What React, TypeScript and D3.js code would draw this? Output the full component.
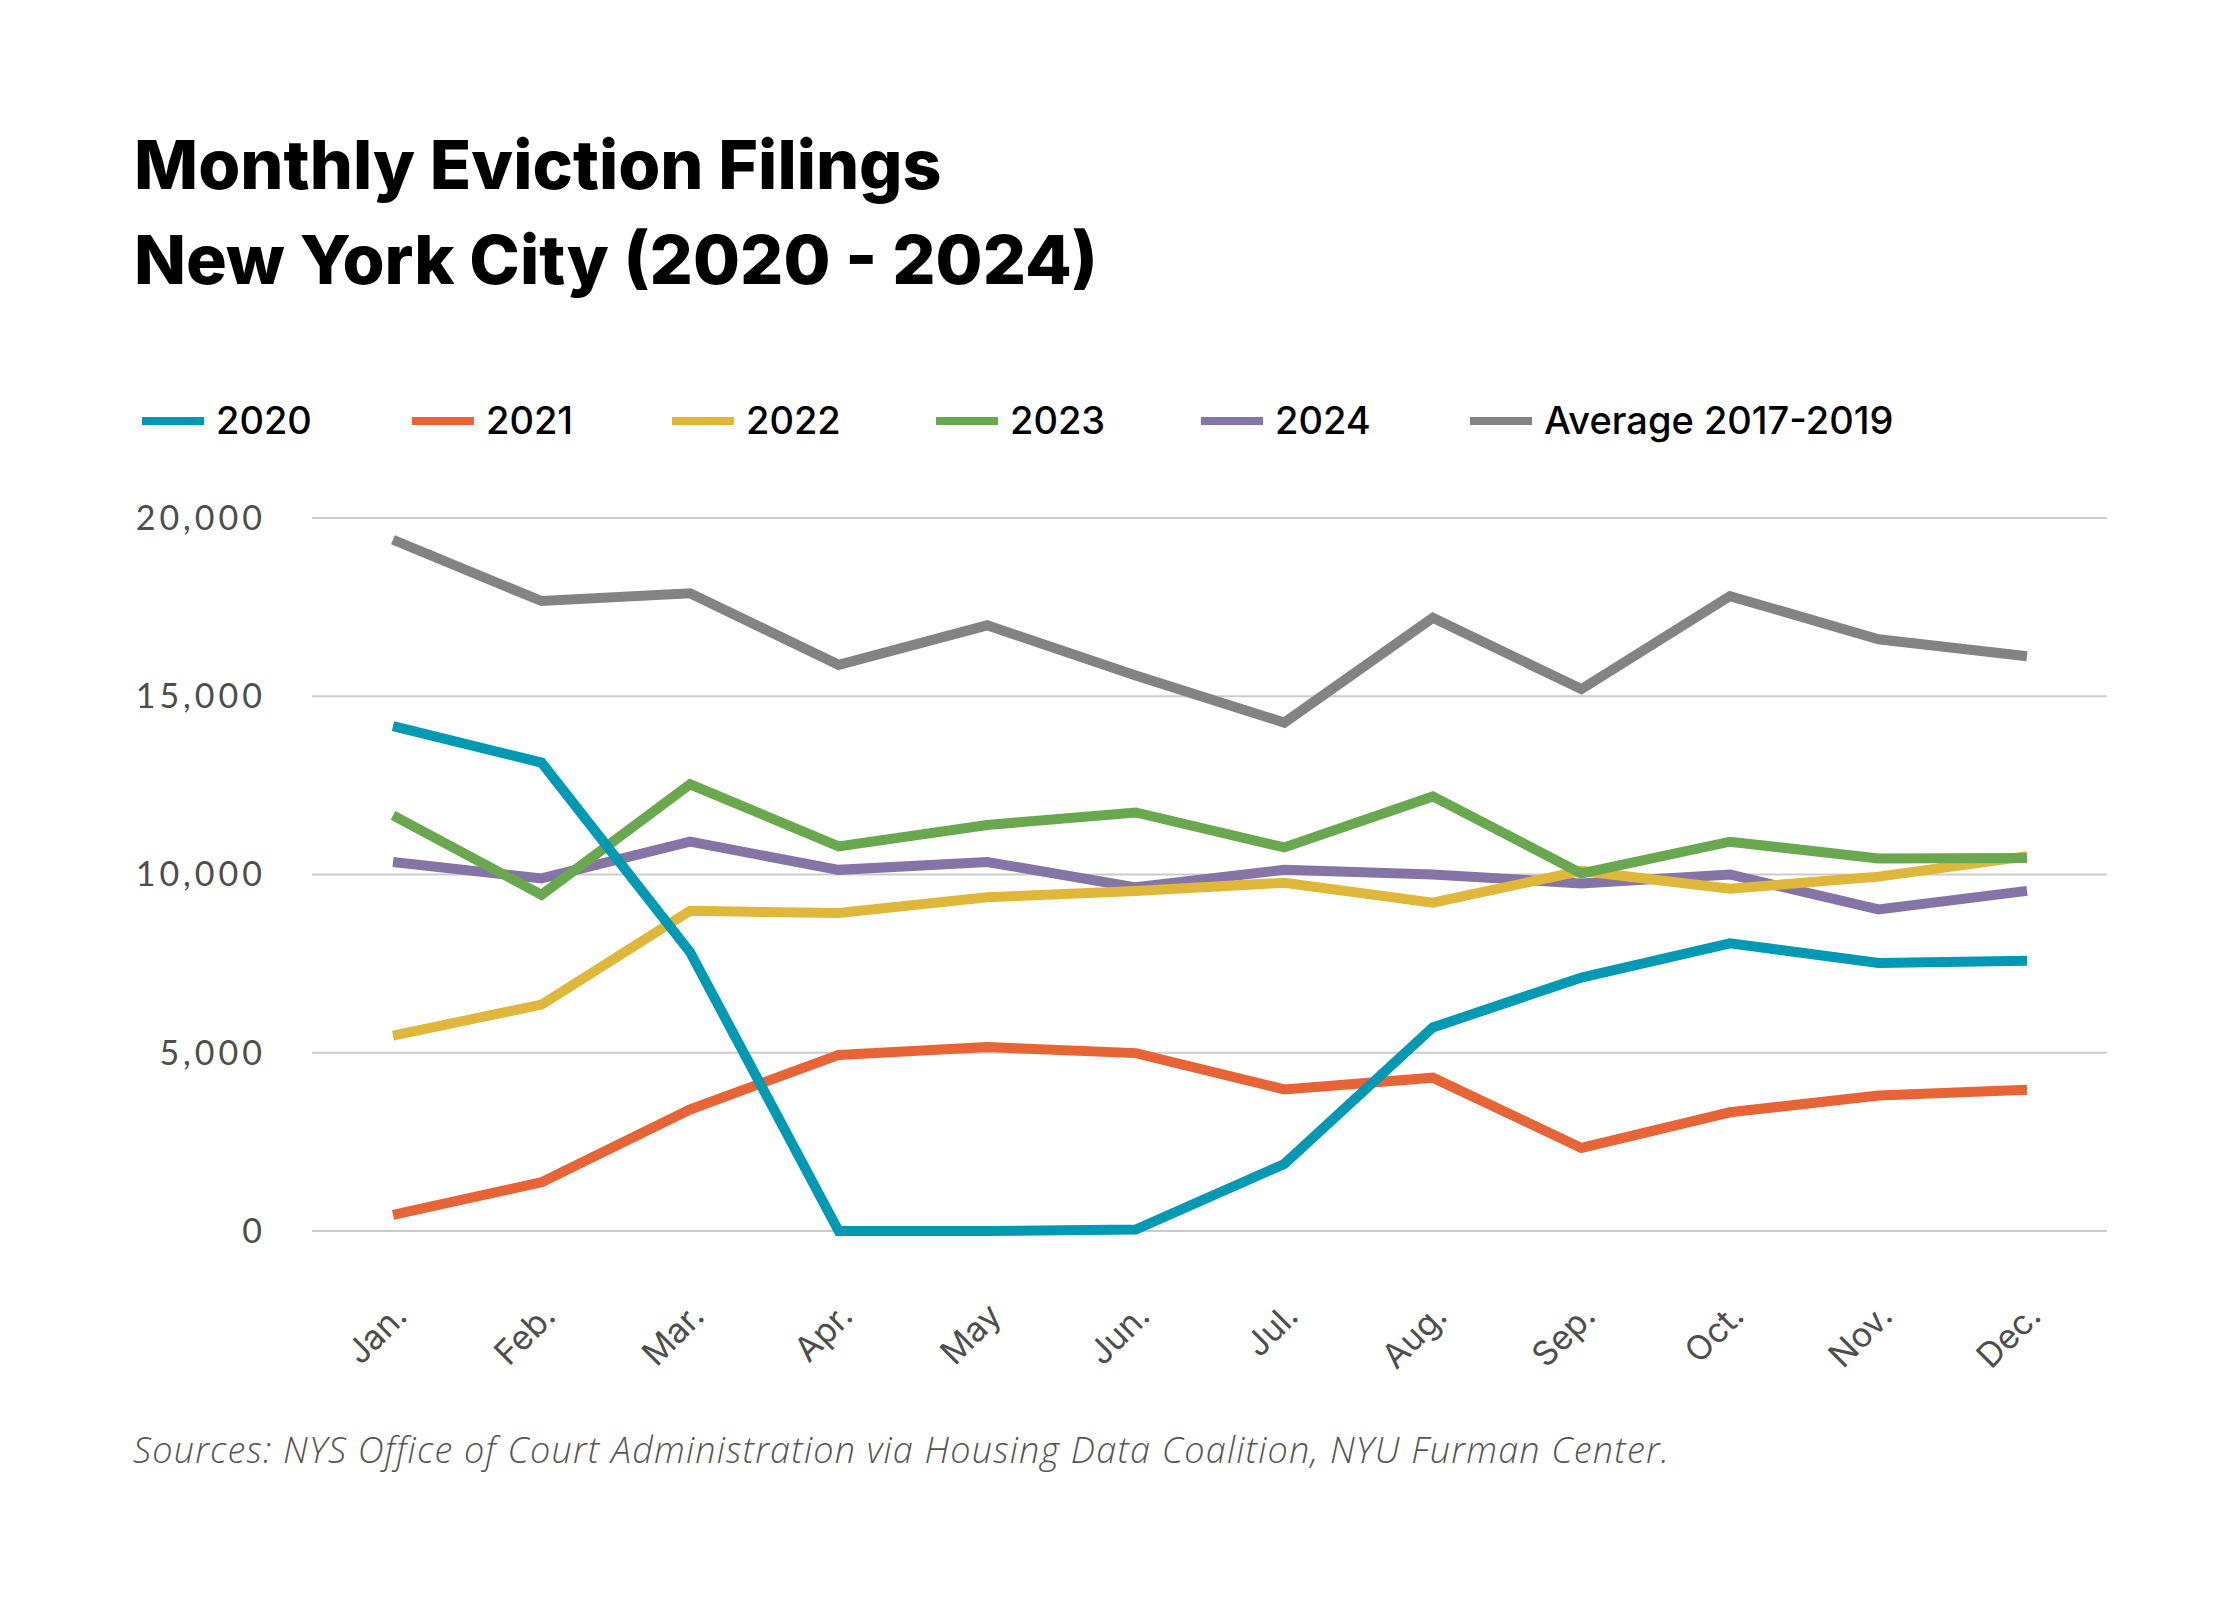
import React from "react";
import * as d3 from "d3";

const months = ["Jan.", "Feb.", "Mar.", "Apr.", "May", "Jun.", "Jul.", "Aug.", "Sep.", "Oct.", "Nov.", "Dec."];
const seriesNames = ["2020", "2021", "2022", "2023", "2024", "Average 2017-2019"];
const seriesColors = ["#0099b4", "#e66435", "#dfb73b", "#6aa84f", "#8574a6", "#838383"];

const v2020 = [14160, 13140, 7820, 0, 0, 40, 1880, 5710, 7110, 8070, 7520, 7580];
const v2021 = [450, 1370, 3410, 4940, 5160, 4990, 3970, 4300, 2330, 3330, 3800, 3960];
const v2022 = [5480, 6350, 8980, 8920, 9360, 9540, 9770, 9210, 10100, 9600, 9940, 10510];
const v2023 = [11660, 9430, 12530, 10790, 11390, 11740, 10760, 12190, 10030, 10920, 10450, 10460];
const v2024 = [10350, 9890, 10920, 10130, 10350, 9640, 10130, 10000, 9750, 10000, 9020, 9540];
const vAvg = [19390, 17670, 17890, 15880, 16990, 15580, 14260, 17200, 15200, 17810, 16600, 16120];
const allSeries = [v2020, v2021, v2022, v2023, v2024, vAvg];
const yTicks = [0, 5000, 10000, 15000, 20000];
const legendX = [142, 412, 672, 936, 1201, 1470];

const W = 2240;
const H = 1600;

export default function App() {
  const x = d3.scalePoint<string>().domain(months).range([393, 2027]);
  const y = d3.scaleLinear().domain([0, 20000]).range([1231, 518]);
  const line = d3
    .line<number>()
    .x((_, i) => x(months[i]) as number)
    .y((d) => y(d));
  const fmt = d3.format(",");
  const drawOrder = [5, 4, 2, 3, 1, 0];

  return (
    <svg
      width={W}
      height={H}
      viewBox={`0 0 ${W} ${H}`}
      style={{ position: "absolute", left: 0, top: 0, background: "#fff" }}
    >
      <rect x={0} y={0} width={W} height={H} fill="#fff" />
      <g fontFamily="Inter, 'Libre Franklin', sans-serif" fontWeight={800} fill="#000">
        <text x={134} y={189} fontSize={68}>Monthly Eviction Filings</text>
        <text x={134} y={284} fontSize={68}>New York City (2020 - 2024)</text>
      </g>

      <g>
        {seriesNames.map((name, i) => {
          const lx = legendX[i];
          return (
            <g key={name}>
              <rect x={lx} y={417} width={62} height={8} fill={seriesColors[i]} />
              <text
                x={lx + 74}
                y={434}
                fontFamily="Inter, sans-serif"
                fontSize={38}
                fontWeight={500}
                fill="#000"
              >
                {name}
              </text>
            </g>
          );
        })}
      </g>

      <g>
        {yTicks.map((t) => (
          <g key={t}>
            <line x1={312} x2={2107} y1={y(t)} y2={y(t)} stroke="#cccccc" strokeWidth={2} />
            <text
              x={266}
              y={y(t)}
              dy="0.35em"
              textAnchor="end"
              fontFamily="Lato, sans-serif"
              fontSize={34}
              letterSpacing={4}
              fill="#4d4d4d"
            >
              {fmt(t)}
            </text>
          </g>
        ))}
      </g>

      <g>
        {months.map((m) => (
          <text
            key={m}
            transform={`translate(${(x(m) as number) + 16},${1318}) rotate(-45)`}
            textAnchor="end"
            fontFamily="Inter, sans-serif"
            fontSize={34}
            fill="#4d4d4d"
          >
            {m}
          </text>
        ))}
      </g>

      <g fill="none" strokeWidth={10} strokeLinejoin="miter" strokeLinecap="butt">
        {drawOrder.map((i) => (
          <path key={seriesNames[i]} d={line(allSeries[i]) as string} stroke={seriesColors[i]} />
        ))}
      </g>

      <text
        x={133}
        y={1463}
        fontFamily="'Open Sans', sans-serif"
        fontStyle="italic"
        fontWeight={300}
        fontSize={36}
        letterSpacing={1.2}
        fill="#555"
      >
        Sources: NYS Office of Court Administration via Housing Data Coalition, NYU Furman Center.
      </text>
    </svg>
  );
}
